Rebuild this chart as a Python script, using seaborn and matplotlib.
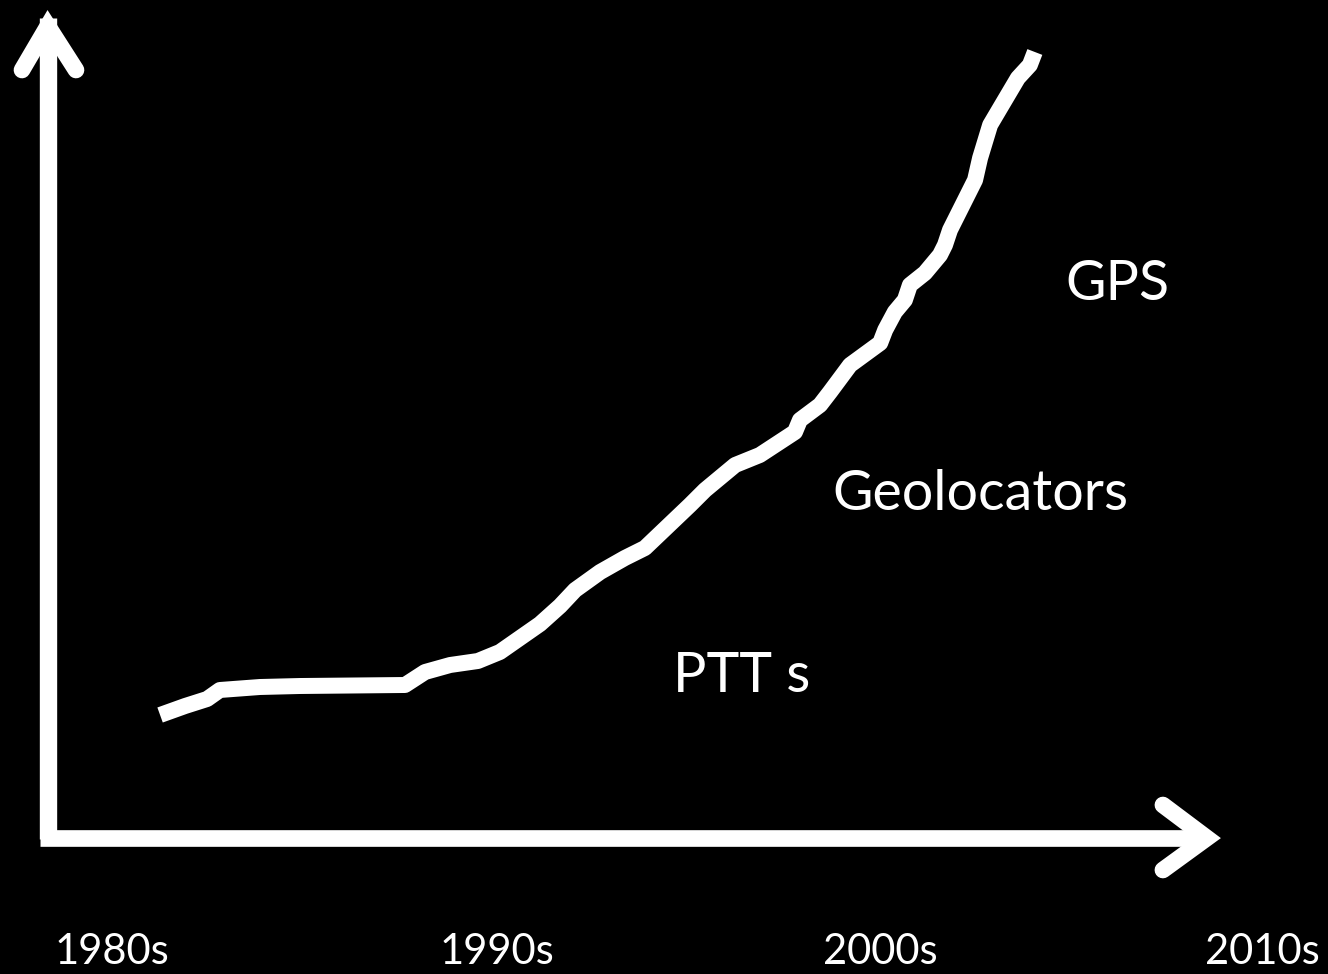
import numpy as np
import pandas as pd
import matplotlib
matplotlib.use("Agg")
import matplotlib.pyplot as plt
import seaborn as sns

# curve (year, relative capability)
years = [1981.35, 1982.0, 1982.57, 1982.9, 1983.94, 1984.98, 1987.7, 1988.22,
         1988.87, 1989.59, 1990.16, 1990.68, 1991.2, 1991.72, 1992.11, 1992.76,
         1993.4, 1993.92, 1995.09, 1995.48, 1996.26, 1996.9, 1997.81, 1997.94,
         1998.46, 1998.72, 1999.24, 2000.02, 2000.15, 2000.4, 2000.66, 2000.79,
         2001.18, 2001.57, 2001.7, 2001.83, 2002.09, 2002.48, 2002.61, 2002.87,
         2003.13, 2003.59, 2003.9, 2004.03]
capability = [123, 132, 139, 148, 151, 152, 153, 166, 173, 177, 186, 200, 214,
              232, 248, 266, 280, 290, 333, 348, 373, 383, 406, 418, 433, 446,
              473, 495, 508, 526, 538, 553, 565, 583, 593, 608, 628, 658, 680,
              713, 730, 760, 773, 786]

tick_years = [1980.09, 1990.09, 2000.02, 2009.93]
tick_labels = ["1980s", "1990s", "2000s", "2010s"]

tech_labels = ["PTT s", "Geolocators", "GPS"]
tech_x = [1996.44, 2002.63, 2006.16]
tech_y = [162, 344, 554]

df = pd.DataFrame({"year": years, "capability": capability})

sns.set_theme(style="white")
plt.rcParams["font.family"] = ["Lato", "DejaVu Sans"]

fig = plt.figure(figsize=(13.28, 9.74), dpi=100, facecolor="black")
ax = fig.add_axes([0, 0, 1, 1])
ax.set_facecolor("black")

sns.lineplot(data=df, x="year", y="capability", color="white", lw=11.5,
             solid_capstyle="butt", solid_joinstyle="round", ax=ax)

# hand drawn axes with open arrow heads
x0, y0 = 1978.44, 0
ax.plot([x0, x0], [-1, 820], color="white", lw=12.5, solid_capstyle="butt")
ax.plot([x0 - 0.2, 2008.2], [y0, y0], color="white", lw=12, solid_capstyle="butt")
ax.plot([1977.77, x0, 1979.17], [768, 812, 768], color="white", lw=12,
        solid_capstyle="round", solid_joinstyle="miter")
ax.plot([2007.35, 2008.49, 2007.35], [33, 0, -32], color="white", lw=12,
        solid_capstyle="round", solid_joinstyle="miter")

for lab, x, y in zip(tech_labels, tech_x, tech_y):
    ax.text(x, y, lab, color="white", fontsize=40, ha="center", va="center")

for lab, x in zip(tick_labels, tick_years):
    ax.text(x, -114, lab, color="white", fontsize=30, ha="center", va="center")

ax.set_xlim(1977.2, 2011.63)
ax.set_ylim(-136, 838)
ax.axis("off")

fig.savefig("out.png", dpi=100, facecolor="black")
